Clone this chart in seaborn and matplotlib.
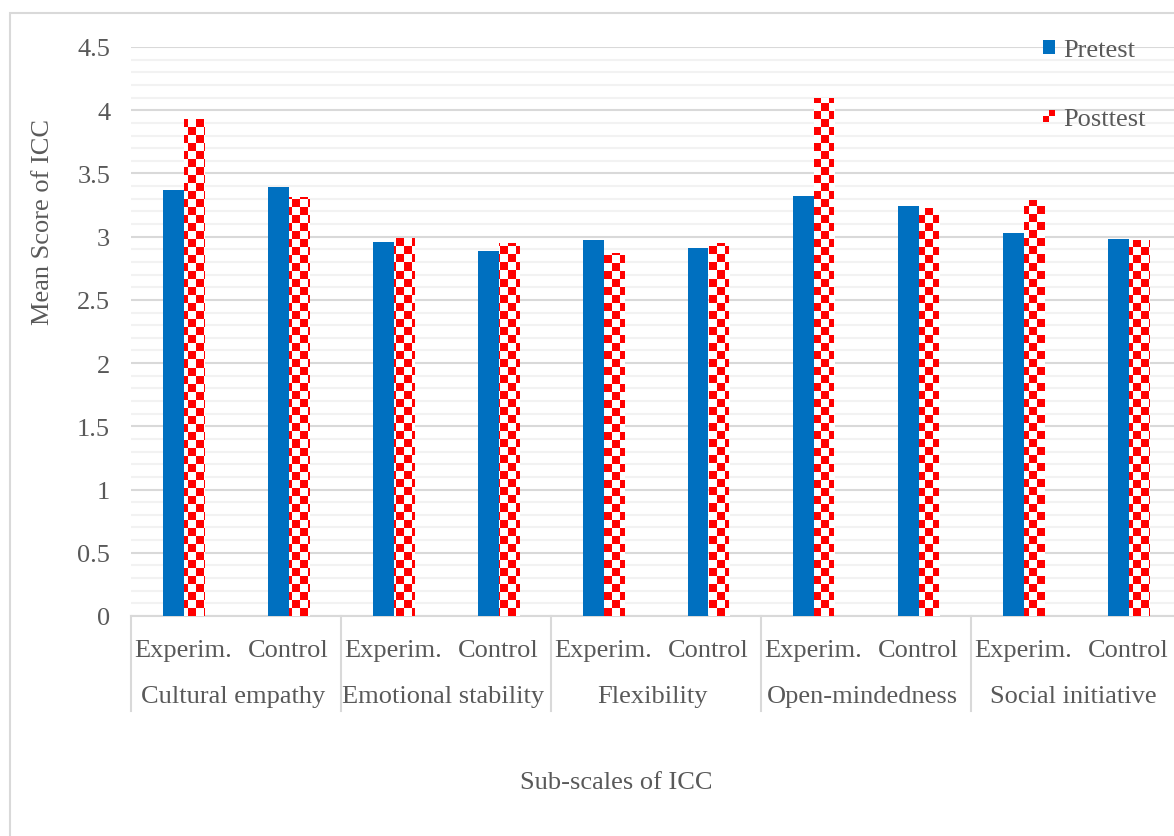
import numpy as np
import pandas as pd
import matplotlib
matplotlib.use("Agg")
import matplotlib.pyplot as plt
import matplotlib.transforms as mtransforms
from matplotlib.patches import Patch, Rectangle
from matplotlib.legend_handler import HandlerBase
import seaborn as sns

# Data
subscales = ['Cultural empathy', 'Emotional stability', 'Flexibility',
             'Open-mindedness', 'Social initiative']
groups = ['Experim.', 'Control']
pretest = [3.37, 3.39, 2.96, 2.89, 2.97, 2.91, 3.32, 3.24, 3.03, 2.98]
posttest = [3.93, 3.31, 2.99, 2.95, 2.87, 2.95, 4.10, 3.23, 3.29, 2.97]
tests = ['Pretest', 'Posttest']

BLUE = '#0070C0'
RED = '#FF0000'
TXT = '#595959'
GRID = '#D9D9D9'
MINOR = '#F2F2F2'
W, H = 1174, 837

# long table for seaborn
ids = [f'{s}|{g}' for s in subscales for g in groups]
df = pd.DataFrame({
    'id': ids * 2,
    'score': pretest + posttest,
    'test': ['Pretest'] * 10 + ['Posttest'] * 10,
})

plt.rcParams['font.family'] = ['Liberation Serif', 'DejaVu Serif']
FS = 19

fig = plt.figure(figsize=(W / 100, H / 100), dpi=100)
ax = fig.add_axes([131 / W, 220 / H, 1050 / W, 569 / H])

sns.barplot(data=df, x='id', y='score', hue='test', order=ids, hue_order=tests,
            palette=[BLUE, RED], width=0.4, saturation=1, legend=False,
            errorbar=None, ax=ax, zorder=3)

for bar in ax.containers[0]:
    bar.set_edgecolor('none')
for bar in ax.containers[1]:
    bar.set_edgecolor('none')

xlim = (-0.5, 9.5)
ylim = (0, 4.5)

# checkerboard fill for the posttest bars (8 px squares)
ncol, nrow = 131, 71
ii, jj = np.indices((nrow, ncol))
checker = np.zeros((nrow, ncol, 4))
checker[(ii + jj) % 2 == 0] = [1, 1, 1, 1]
for bar in ax.containers[1]:
    im = ax.imshow(checker, extent=(xlim[0], xlim[1], ylim[0], ylim[1]),
                   aspect='auto', interpolation='nearest', zorder=4)
    im.set_clip_path(bar)

ax.set_xlim(*xlim)
ax.set_ylim(*ylim)

# gridlines
ax.set_yticks(np.arange(0, 4.51, 0.5))
ax.set_yticklabels([f'{v:g}' for v in np.arange(0, 4.51, 0.5)])
ax.set_yticks(np.arange(0, 4.51, 0.1), minor=True)
ax.grid(axis='y', which='major', color=GRID, lw=1.5, zorder=0)
ax.grid(axis='y', which='minor', color=MINOR, lw=1.5, zorder=0)
ax.set_axisbelow(True)
ax.tick_params(axis='y', which='both', length=0, pad=15, labelsize=FS, labelcolor=TXT)
ax.tick_params(axis='x', which='both', length=0, labelbottom=False)
ax.set_xlabel('')
ax.set_ylabel('')
for side in ['left', 'right', 'top']:
    ax.spines[side].set_visible(False)
ax.spines['bottom'].set_color(GRID)
ax.spines['bottom'].set_linewidth(1.5)

# two-level category axis
blend = mtransforms.blended_transform_factory(ax.transData, ax.transAxes)
for i, g in enumerate(groups * len(subscales)):
    ax.text(i, (617 - 657) / 569, g, transform=blend, ha='center', va='baseline',
            fontsize=FS, color=TXT)
for k, s in enumerate(subscales):
    ax.text(2 * k + 0.47, (617 - 703) / 569, s, transform=blend, ha='center',
            va='baseline', fontsize=FS, color=TXT)
for xb in np.arange(-0.5, 10, 2):
    ax.plot([xb, xb], [0, (617 - 712) / 569], transform=blend, color=GRID,
            lw=1.5, clip_on=False)

fig.text(43 / W, 1 - 222 / H, 'Mean Score of ICC', rotation=90, ha='center',
         va='center', fontsize=FS, color=TXT)
fig.text(616 / W, 1 - 783 / H, 'Sub-scales of ICC', ha='center', va='center',
         fontsize=FS, color=TXT)


class CheckerHandler(HandlerBase):
    def create_artists(self, legend, orig_handle, xdescent, ydescent,
                       width, height, fontsize, trans):
        s = min(width, height)
        x0 = -xdescent + (width - s) / 2
        y0 = -ydescent + (height - s) / 2
        h = s / 2
        return [Rectangle((x0 + h, y0 + h), h, h, facecolor=RED, edgecolor='none', transform=trans),
                Rectangle((x0, y0), h, h, facecolor=RED, edgecolor='none', transform=trans)]


h_pre = Patch(facecolor=BLUE, edgecolor='none')
h_post = Patch(facecolor=RED, edgecolor='none')
leg = ax.legend([h_pre, h_post], tests, loc='upper left',
                bbox_to_anchor=(1043 / W, 1 - 40 / H), bbox_transform=fig.transFigure,
                frameon=False, fontsize=FS, borderpad=0, borderaxespad=0,
                handlelength=0.45, handleheight=0.45, handletextpad=0.3,
                labelspacing=1.78, handler_map={h_post: CheckerHandler()})
for t in leg.get_texts():
    t.set_color(TXT)

# outer chart border (cropped at right and bottom)
fig.add_artist(Rectangle((10 / W, -0.2), 2, 1.2 - 14 / H, transform=fig.transFigure,
                         fill=False, edgecolor=GRID, lw=1.5))

fig.savefig('out.png', dpi=100, facecolor='white')
